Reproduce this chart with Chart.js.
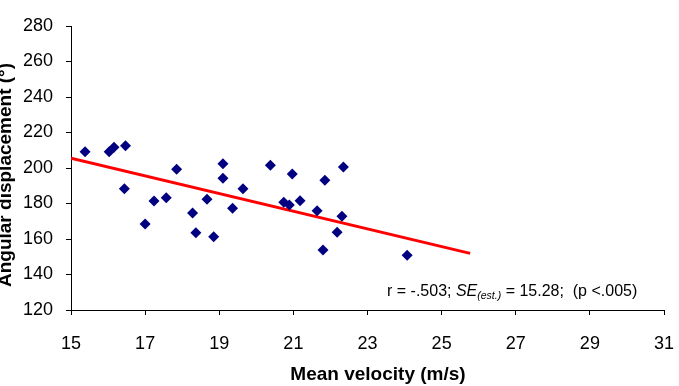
<!DOCTYPE html>
<html>
<head>
<meta charset="utf-8">
<script src="https://cdn.jsdelivr.net/npm/chart.js@4.4.1/dist/chart.umd.min.js"></script>
<style>
  html, body { margin: 0; padding: 0; background: #fff; }
  #wrap { width: 679px; height: 386px; }
</style>
</head>
<body>
<div id="wrap"><canvas id="scatterChart"></canvas></div>
<script>
// Mean velocity (m/s) and angular displacement (deg)
const velocity = [15.38, 16.03, 16.16, 16.47, 16.44, 17.24, 17.0, 17.57, 17.85, 18.28,
                  18.37, 18.67, 18.85, 19.10, 19.10, 19.36, 19.64, 20.38, 20.74, 20.89,
                  20.97, 21.18, 21.64, 21.80, 21.85, 22.18, 22.31, 22.35, 24.07];
const displacement = [209.2, 209.2, 211.7, 212.6, 188.3, 181.4, 168.5, 183.3, 199.3, 174.6,
                      163.5, 182.4, 161.3, 202.4, 194.2, 177.3, 188.3, 201.5, 180.7, 179.2,
                      196.6, 181.6, 175.9, 153.8, 193.1, 163.8, 172.8, 200.6, 150.8];

// regression line end points
const trendX = [15, 25.77];
const trendY = [205.5, 151.9];

const xTicks = [15, 17, 19, 21, 23, 25, 27, 29, 31];
const yTicks = [120, 140, 160, 180, 200, 220, 240, 260, 280];

const xTitle = 'Mean velocity (m/s)';
const yTitle = 'Angular displacement (°)';
const statsText = 'r = -.503; ';
const statsTail = ' = 15.28;  (p <.005)';

const points = velocity.map((v, i) => ({ x: v, y: displacement[i] }));
const trend = trendX.map((v, i) => ({ x: v, y: trendY[i] }));

const FONT = '"Liberation Sans", Arial, sans-serif';

// axis titles and stats line drawn on top of the chart
const extraText = {
  id: 'extraText',
  afterDraw(chart) {
    const ctx = chart.ctx;
    ctx.save();
    ctx.fillStyle = '#000';
    ctx.textBaseline = 'alphabetic';

    // x axis title (sits a little right of centre in the original)
    ctx.font = 'bold 19px ' + FONT;
    ctx.textAlign = 'center';
    ctx.fillText(xTitle, 378, 380);

    // y axis title (partly clipped at the left edge like the original)
    ctx.translate(11, 175);
    ctx.rotate(-Math.PI / 2);
    ctx.fillText(yTitle, 0, 0);
    ctx.setTransform(1, 0, 0, 1, 0, 0);

    // statistics
    let x = 387;
    const y = 296;
    ctx.textAlign = 'left';
    ctx.font = '16px ' + FONT;
    ctx.fillText(statsText, x, y);
    x += ctx.measureText(statsText).width;
    ctx.font = 'italic 16px ' + FONT;
    ctx.fillText('SE', x, y);
    x += ctx.measureText('SE').width;
    ctx.font = 'italic 10.5px ' + FONT;
    ctx.fillText('(est.)', x, y + 3);
    x += ctx.measureText('(est.)').width;
    ctx.font = '16px ' + FONT;
    ctx.fillText(statsTail, x, y);
    ctx.restore();
  }
};

const ctx = document.getElementById('scatterChart').getContext('2d');
new Chart(ctx, {
  type: 'scatter',
  data: {
    datasets: [
      {
        label: 'Trend',
        type: 'line',
        data: trend,
        borderColor: '#ff0000',
        borderWidth: 3,
        pointRadius: 0,
        fill: false,
        order: 2
      },
      {
        label: 'Trials',
        data: points,
        pointStyle: 'rectRot',
        pointRadius: 5.5,
        backgroundColor: '#000080',
        borderColor: '#000080',
        borderWidth: 0,
        order: 1
      }
    ]
  },
  options: {
    responsive: true,
    maintainAspectRatio: false,
    animation: false,
    layout: { padding: { top: 26, right: 15, left: 0, bottom: 0 } },
    plugins: {
      legend: { display: false },
      tooltip: { enabled: false }
    },
    scales: {
      x: {
        type: 'linear',
        min: 15,
        max: 31,
        afterBuildTicks: (scale) => { scale.ticks = xTicks.map(v => ({ value: v })); },
        afterFit: (scale) => {
          scale.height = 76;
          // keep the label overflow from eating into the right margin
          scale.paddingLeft = 0;
          scale.paddingRight = 0;
        },
        grid: { drawOnChartArea: false, drawTicks: true, tickLength: 5, color: '#000' },
        border: { color: '#000', width: 1 },
        ticks: {
          color: '#000',
          padding: 18,
          maxRotation: 0,
          font: { family: FONT, size: 18 }
        }
      },
      y: {
        type: 'linear',
        min: 120,
        max: 280,
        afterBuildTicks: (scale) => { scale.ticks = yTicks.map(v => ({ value: v })); },
        afterFit: (scale) => { scale.width = 71; },
        grid: { drawOnChartArea: false, drawTicks: true, tickLength: 5, color: '#000' },
        border: { color: '#000', width: 1 },
        ticks: {
          color: '#000',
          padding: 13,
          font: { family: FONT, size: 18 }
        }
      }
    }
  },
  plugins: [extraText]
});
</script>
</body>
</html>
